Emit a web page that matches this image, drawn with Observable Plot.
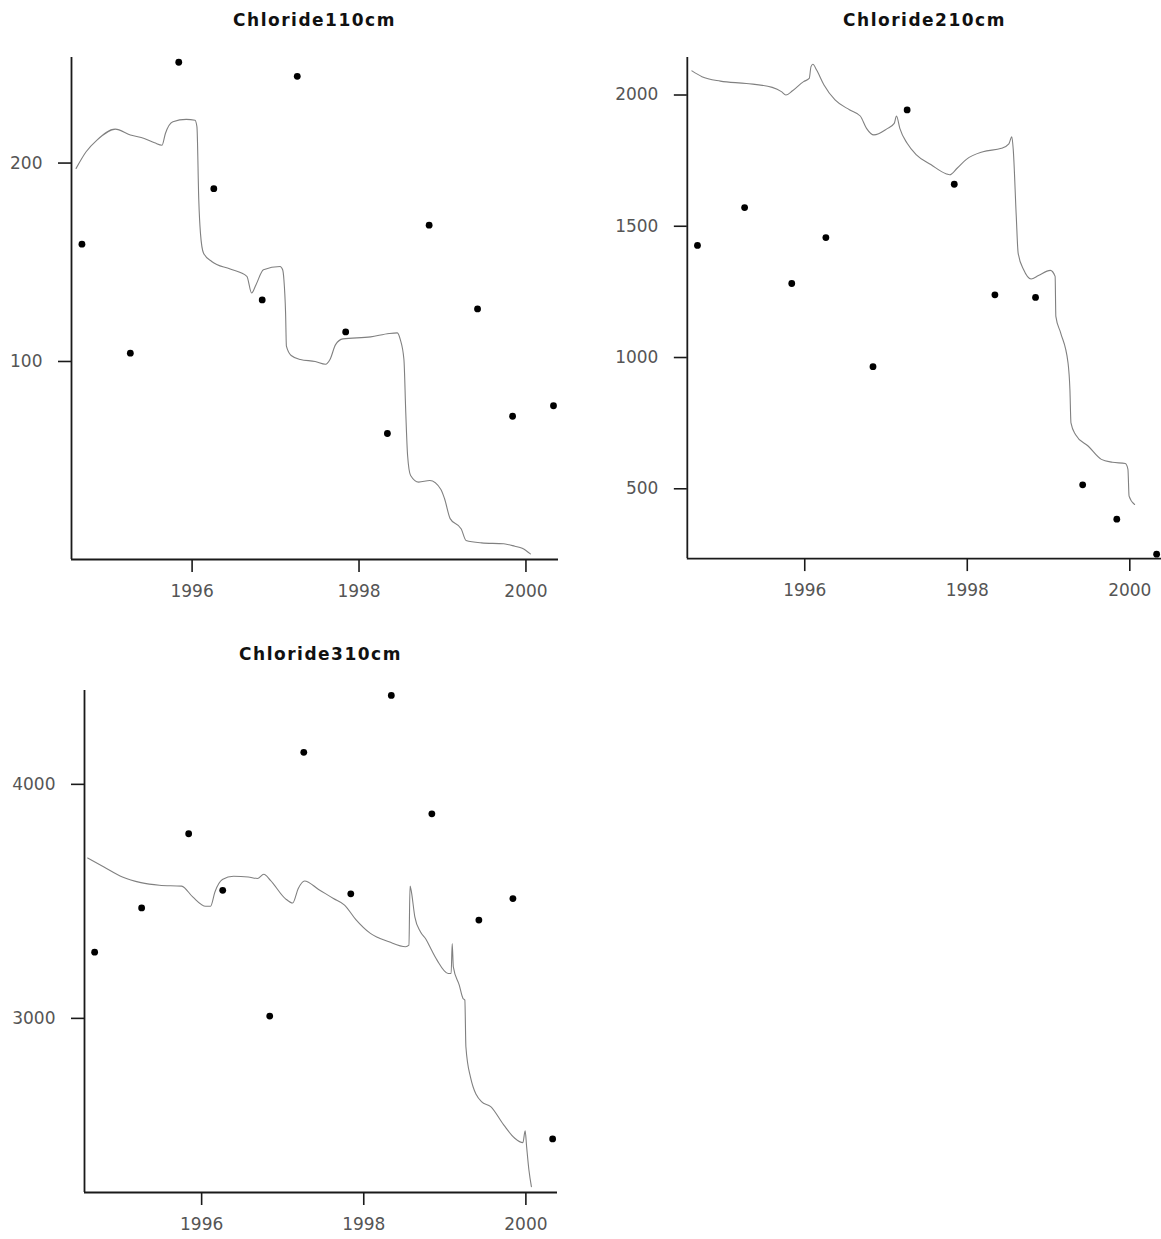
<!DOCTYPE html>
<html>
<head>
<meta charset="utf-8">
<script src="https://cdn.jsdelivr.net/npm/d3@7"></script>
<script src="https://cdn.jsdelivr.net/npm/@observablehq/plot@0.6"></script>
<style>
  html, body { margin: 0; padding: 0; background: #fff; }
  #root { position: relative; width: 1161px; height: 1239px; overflow: hidden; background: #fff; }
  .panel { position: absolute; }
  .title { position: absolute; font-family: "DejaVu Sans", sans-serif; font-weight: bold; font-size: 17px; line-height: 22px; color: #111; white-space: nowrap; transform: translateX(-50%); letter-spacing: 1.5px; }
  svg { overflow: visible; }
</style>
</head>
<body>
<div id="root"></div>
<script>
// ---- Data ----
const xTicks = [1996, 1998, 2000];
const xDomain = [1994.555, 2000.39];

// observation dates (decimal years), shared by all depths
const obsYears = [1994.68, 1995.26, 1995.84, 1996.26, 1996.84, 1997.26, 1997.84, 1998.34, 1998.84, 1999.42, 1999.84, 2000.33];

const obs110 = [159.1, 104.2, 250.8, 187.1, 131.0, 243.7, 114.9, 63.7, 168.7, 126.5, 72.4, 77.7];
const obs210 = [1427, 1571, 1282, 1457, 965, 1943, 1660, 1239, 1229, 515, 384, 251];
const obs310 = [3283, 3472, 3789, 3547, 3010, 4137, 3532, 4380, 3874, 3420, 3512, 2485];

// simulated series
const sim110Years = [1994.61, 1994.73, 1994.86, 1995.08, 1995.26, 1995.39, 1995.55, 1995.64, 1995.68, 1995.77, 1995.93, 1996.035, 1996.058, 1996.08, 1996.10, 1996.137, 1996.235, 1996.456, 1996.656, 1996.713, 1996.766, 1996.855, 1997.054, 1997.085, 1997.10, 1997.12, 1997.13, 1997.187, 1997.298, 1997.475, 1997.599, 1997.652, 1997.719, 1997.807, 1998.14, 1998.361, 1998.459, 1998.494, 1998.538, 1998.56, 1998.582, 1998.618, 1998.715, 1998.848, 1998.981, 1999.025, 1999.092, 1999.225, 1999.282, 1999.468, 1999.734, 1999.867, 1999.955, 2000.053];
const sim110Values = [197.3, 205.7, 211.6, 217.1, 214.1, 212.9, 210.2, 209.0, 214.9, 220.8, 222.0, 221.6, 218.2, 181.4, 164.7, 154.6, 150.4, 146.6, 142.9, 134.5, 138.7, 146.2, 147.9, 146.2, 141.2, 124.5, 107.7, 103.0, 101.0, 100.0, 98.6, 101.0, 108.5, 111.4, 112.4, 114.1, 114.4, 111.1, 101.0, 74.3, 52.6, 42.5, 39.2, 40.0, 35.5, 30.8, 20.8, 15.6, 9.8, 8.6, 8.1, 6.9, 5.9, 3.0];

const sim210Years = [1994.612, 1994.735, 1994.962, 1995.281, 1995.6, 1995.713, 1995.768, 1995.85, 1995.986, 1996.055, 1996.077, 1996.1, 1996.146, 1996.237, 1996.373, 1996.555, 1996.683, 1996.76, 1996.851, 1997.01, 1997.101, 1997.129, 1997.17, 1997.26, 1997.374, 1997.556, 1997.738, 1997.784, 1997.875, 1997.989, 1998.193, 1998.421, 1998.512, 1998.548, 1998.566, 1998.603, 1998.626, 1998.694, 1998.785, 1998.876, 1999.022, 1999.081, 1999.09, 1999.149, 1999.24, 1999.263, 1999.276, 1999.331, 1999.49, 1999.65, 1999.786, 1999.945, 1999.977, 1999.991, 2000.059];
const sim210Values = [2092, 2070, 2053, 2044, 2029, 2013, 2000, 2016, 2051, 2063, 2108, 2117, 2095, 2038, 1981, 1943, 1920, 1873, 1848, 1871, 1892, 1920, 1873, 1816, 1772, 1734, 1700, 1696, 1721, 1755, 1784, 1797, 1814, 1841, 1791, 1537, 1398, 1334, 1299, 1312, 1332, 1309, 1157, 1094, 979, 878, 751, 707, 662, 612, 601, 596, 574, 472, 440];

const sim310Years = [1994.594, 1994.795, 1995.023, 1995.251, 1995.479, 1995.753, 1995.89, 1996.05, 1996.11, 1996.164, 1996.256, 1996.393, 1996.575, 1996.689, 1996.767, 1996.849, 1997.032, 1997.123, 1997.192, 1997.269, 1997.443, 1997.626, 1997.763, 1997.9, 1998.082, 1998.311, 1998.516, 1998.557, 1998.571, 1998.584, 1998.63, 1998.699, 1998.767, 1998.836, 1998.904, 1999.041, 1999.078, 1999.091, 1999.105, 1999.178, 1999.224, 1999.247, 1999.26, 1999.315, 1999.452, 1999.566, 1999.726, 1999.863, 1999.963, 1999.991, 2000.009, 2000.037, 2000.068];
const sim310Values = [3685, 3647, 3604, 3580, 3569, 3565, 3519, 3479, 3479, 3540, 3593, 3607, 3604, 3598, 3616, 3590, 3512, 3493, 3555, 3587, 3551, 3512, 3484, 3423, 3363, 3327, 3306, 3313, 3565, 3548, 3434, 3370, 3338, 3292, 3249, 3192, 3192, 3320, 3220, 3142, 3085, 3078, 2879, 2751, 2644, 2623, 2545, 2488, 2469, 2520, 2452, 2353, 2281];

const titles = ["Chloride110cm", "Chloride210cm", "Chloride310cm"];
const yDomains = [[0.2, 253.2], [234, 2143], [2256, 4401]];
const yTicksList = [[100, 200], [500, 1000, 1500, 2000], [3000, 4000]];

// ---- Drawing ----
const root = document.getElementById("root");
const FONT = "'DejaVu Sans', sans-serif";

function panel({title, simYears, simValues, obsValues, yDomain, yTicks, left, top, width, marginLeft, marginRight, titleTop}) {
  const marginTop = 18, marginBottom = 50, frameH = 502;
  const sim = simYears.map((x, i) => ({x, y: simValues[i]}));
  const obs = obsYears.map((x, i) => ({x, y: obsValues[i]}));
  const chart = Plot.plot({
    width, height: marginTop + frameH + marginBottom,
    marginLeft, marginRight, marginTop, marginBottom,
    style: {fontFamily: FONT, fontSize: "17px", background: "transparent", overflow: "visible"},
    x: {domain: xDomain, label: null},
    y: {domain: yDomain, label: null},
    marks: [
      Plot.axisX({ticks: xTicks, tickFormat: "d", tickSize: 13, tickPadding: 12, stroke: "#1a1a1a", strokeWidth: 1.6, fill: "#555", label: null}),
      Plot.axisY({ticks: yTicks, tickFormat: "d", tickSize: 13, tickPadding: 16, stroke: "#1a1a1a", strokeWidth: 1.6, fill: "#555", label: null}),
      Plot.ruleX([xDomain[0]], {stroke: "#1a1a1a", strokeWidth: 1.8}),
      Plot.ruleY([yDomain[0]], {stroke: "#1a1a1a", strokeWidth: 1.8}),
      Plot.line(sim, {x: "x", y: "y", stroke: "#808080", strokeWidth: 1.1, curve: "monotone-x"}),
      Plot.dot(obs, {x: "x", y: "y", r: 3.4, fill: "#000", stroke: "none"})
    ]
  });
  const wrap = document.createElement("div");
  wrap.className = "panel";
  wrap.style.left = left + "px";
  wrap.style.top = top + "px";
  wrap.appendChild(chart);
  root.appendChild(wrap);
  const t = document.createElement("div");
  t.className = "title";
  t.textContent = title;
  t.style.left = (left + marginLeft + (width - marginLeft - marginRight) / 2) + "px";
  t.style.top = titleTop + "px";
  root.appendChild(t);
}

panel({title: titles[0], simYears: sim110Years, simValues: sim110Values, obsValues: obs110,
  yDomain: yDomains[0], yTicks: yTicksList[0], left: 0, top: 39, width: 580, marginLeft: 71, marginRight: 22, titleTop: 9});
panel({title: titles[1], simYears: sim210Years, simValues: sim210Values, obsValues: obs210,
  yDomain: yDomains[1], yTicks: yTicksList[1], left: 580, top: 39, width: 582, marginLeft: 107, marginRight: 0, titleTop: 9});
panel({title: titles[2], simYears: sim310Years, simValues: sim310Values, obsValues: obs310,
  yDomain: yDomains[2], yTicks: yTicksList[2], left: 0, top: 672, width: 580, marginLeft: 84, marginRight: 23, titleTop: 643});
</script>
</body>
</html>
